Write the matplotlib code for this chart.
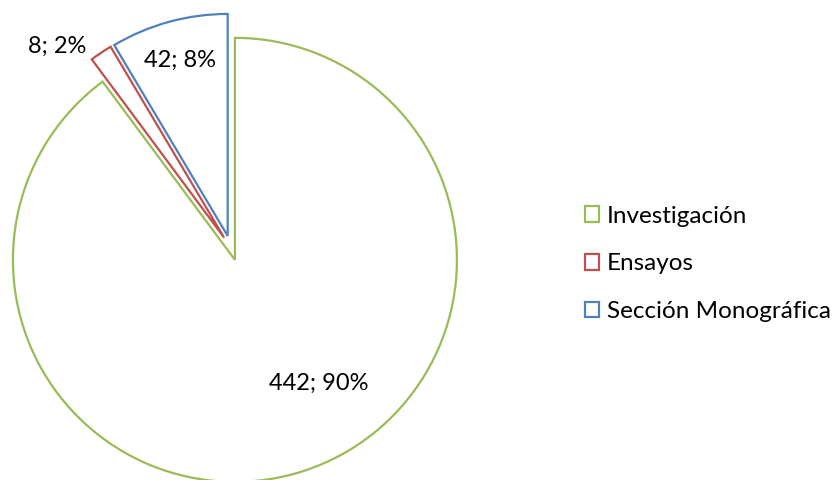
import matplotlib
matplotlib.use("Agg")
import matplotlib.pyplot as plt

categories = ["Investigación", "Ensayos", "Sección Monográfica"]
values = [442, 8, 42]
pct_labels = ["90%", "2%", "8%"]
colors = ["#9BBB59", "#C0504D", "#4F81BD"]

plt.rcParams['font.family'] = ['Lato', 'DejaVu Sans']

fig = plt.figure(figsize=(8.35, 4.8), dpi=100)
ax = fig.add_axes([0, 0, 1, 1])

wedges, _ = ax.pie(values, startangle=90, counterclock=False,
                   center=(231, 232), radius=222,
                   explode=[12.5] * 3, frame=True,
                   wedgeprops=dict(facecolor='white', linewidth=1.6))
for w, c in zip(wedges, colors):
    w.set_edgecolor(c)
ax.set_xlim(0, 835)
ax.set_ylim(0, 480)
ax.set_aspect('equal')
ax.axis('off')

label_pos = [(319, 97), (57, 434), (180, 420)]
for v, p, (x, y) in zip(values, pct_labels, label_pos):
    ax.text(x, y, f"{v}; {p}", ha='center', va='center', fontsize=17, color='black')

leg = ax.legend(wedges, categories, loc='center left', bbox_to_anchor=(0.674, 0.45),
                frameon=False, fontsize=17.5, handlelength=0.6, handleheight=0.6,
                handletextpad=0.3, labelspacing=1.1)

fig.savefig("out.png", dpi=100)
